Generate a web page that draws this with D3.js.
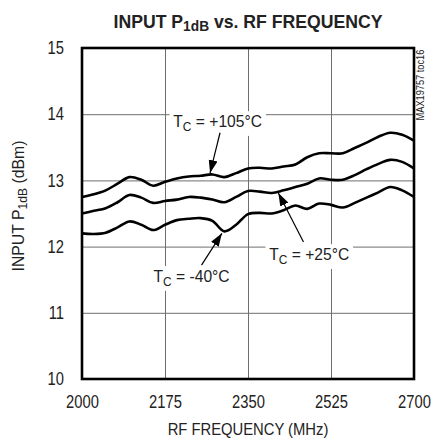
<!DOCTYPE html>
<html>
<head>
<meta charset="utf-8">
<script src="https://cdn.jsdelivr.net/npm/d3@7"></script>
<style>
  body { margin: 0; background: #fff; }
  svg text { font-family: "Liberation Sans", Arial, sans-serif; fill: #222; }
</style>
</head>
<body>
<div class="graph"></div>
<script>
// frequency points (MHz), 25 MHz apart
var freqs = [2000, 2025, 2050, 2075, 2100, 2125, 2150, 2175, 2200, 2225,
             2250, 2275, 2300, 2325, 2350, 2375, 2400, 2425, 2450, 2475,
             2500, 2525, 2550, 2575, 2600, 2625, 2650, 2675, 2700];

// input P1dB (dBm)
var p105 = [12.75, 12.79, 12.85, 12.95, 13.05, 13.01, 12.92, 12.98, 13.03, 13.06,
            13.07, 13.09, 13.05, 13.11, 13.18, 13.19, 13.18, 13.21, 13.24, 13.35,
            13.41, 13.41, 13.41, 13.49, 13.57, 13.66, 13.72, 13.69, 13.60];
var p25  = [12.50, 12.54, 12.58, 12.67, 12.78, 12.74, 12.66, 12.69, 12.71, 12.75,
            12.74, 12.71, 12.67, 12.75, 12.84, 12.83, 12.81, 12.85, 12.90, 12.95,
            13.03, 13.01, 13.01, 13.08, 13.17, 13.25, 13.31, 13.28, 13.18];
var pm40 = [12.20, 12.19, 12.21, 12.29, 12.38, 12.33, 12.25, 12.33, 12.40, 12.42,
            12.43, 12.39, 12.23, 12.33, 12.49, 12.51, 12.50, 12.55, 12.62, 12.57,
            12.65, 12.63, 12.59, 12.66, 12.74, 12.82, 12.90, 12.85, 12.75];

var xTicks = [2000, 2175, 2350, 2525, 2700];
var yTicks = [10, 11, 12, 13, 14, 15];

// annotations: label text, label position, arrow start -> arrow tip (data units)
var notes = [
  {t: "+105°C", lx: 2286, ly: 13.81, ax: 2291, ay: 13.72, tx: 2270, ty: 13.11},
  {t: "+25°C",  lx: 2479, ly: 11.80, ax: 2467, ay: 12.07, tx: 2414, ty: 12.81},
  {t: "-40°C",  lx: 2231, ly: 11.47, ax: 2252, ay: 11.72, tx: 2295, ty: 12.20}
];

var W = 432, H = 440;
var m = {left: 82, right: 18, top: 48, bottom: 61};
var NARROW = 0.84; // the original type is a condensed face

var svg = d3.select(".graph").append("svg")
  .attr("width", W).attr("height", H);

var x = d3.scaleLinear().domain([2000, 2700]).range([m.left, W - m.right]);
var y = d3.scaleLinear().domain([10, 15]).range([H - m.bottom, m.top]);

// grid
svg.append("g").attr("class", "grid")
  .attr("transform", "translate(0," + (H - m.bottom) + ")")
  .call(d3.axisBottom(x).tickValues(xTicks).tickSize(-(H - m.top - m.bottom)).tickFormat(""))
  .call(g => g.select(".domain").remove())
  .call(g => g.selectAll("line").attr("stroke", "#6e6e6e").attr("stroke-width", 1));
svg.append("g").attr("class", "grid")
  .attr("transform", "translate(" + m.left + ",0)")
  .call(d3.axisLeft(y).tickValues(yTicks).tickSize(-(W - m.left - m.right)).tickFormat(""))
  .call(g => g.select(".domain").remove())
  .call(g => g.selectAll("line").attr("stroke", "#6e6e6e").attr("stroke-width", 1));

// curves
var line = d3.line()
  .x(function(d, i) { return x(freqs[i]); })
  .y(function(d) { return y(d); })
  .curve(d3.curveCatmullRom);

[p105, p25, pm40].forEach(function(s) {
  svg.append("path").datum(s)
    .attr("d", line)
    .attr("fill", "none")
    .attr("stroke", "#000")
    .attr("stroke-width", 2.6)
    .attr("stroke-linejoin", "round");
});

// frame
svg.append("rect")
  .attr("x", m.left).attr("y", m.top)
  .attr("width", W - m.left - m.right).attr("height", H - m.top - m.bottom)
  .attr("fill", "none").attr("stroke", "#000").attr("stroke-width", 2.6);

// tick labels (squeezed sideways to look condensed)
svg.append("g")
  .attr("transform", "translate(0," + (H - m.bottom) + ")")
  .call(d3.axisBottom(x).tickValues(xTicks).tickSize(0).tickPadding(16).tickFormat(d3.format("d")))
  .call(g => g.select(".domain").remove())
  .selectAll("text").attr("font-size", 18).attr("font-family", null).attr("fill", "#222")
  .attr("transform", "scale(0.82,1)");
svg.append("g")
  .attr("transform", "translate(" + m.left + ",0)")
  .call(d3.axisLeft(y).tickValues(yTicks).tickSize(0).tickPadding(22).tickFormat(d3.format("d")))
  .call(g => g.select(".domain").remove())
  .selectAll("text").attr("font-size", 18).attr("font-family", null).attr("fill", "#222")
  .attr("transform", "scale(0.82,1)");

// arrowhead
svg.append("defs").append("marker")
  .attr("id", "arrowhead")
  .attr("viewBox", "0 -5 13 10")
  .attr("refX", 13).attr("refY", 0)
  .attr("markerWidth", 13).attr("markerHeight", 10)
  .attr("markerUnits", "userSpaceOnUse")
  .attr("orient", "auto")
  .append("path").attr("d", "M0,-4.5L13,0L0,4.5Z").attr("fill", "#000");

notes.forEach(function(n) {
  var g = svg.append("g")
    .attr("transform", "translate(" + x(n.lx) + "," + y(n.ly) + ") scale(0.92,1)");
  var bg = g.append("rect").attr("fill", "#fff");
  var txt = g.append("text")
    .attr("text-anchor", "middle")
    .attr("font-size", 17);
  txt.append("tspan").text("T");
  txt.append("tspan").attr("font-size", 13).attr("dy", 4).text("C");
  txt.append("tspan").attr("dy", -4).text(" = " + n.t);
  var b = txt.node().getBBox();
  bg.attr("x", b.x - 4).attr("y", b.y).attr("width", b.width + 8).attr("height", b.height + 2);
  svg.append("line")
    .attr("x1", x(n.ax)).attr("y1", y(n.ay))
    .attr("x2", x(n.tx)).attr("y2", y(n.ty))
    .attr("stroke", "#000").attr("stroke-width", 1.2)
    .attr("marker-end", "url(#arrowhead)");
});

// title
var title = svg.append("text")
  .attr("transform", "translate(" + (m.left + W - m.right) / 2 + ",28) scale(0.98,1)")
  .attr("text-anchor", "middle")
  .attr("font-size", 18).attr("font-weight", "bold");
title.append("tspan").text("INPUT P");
title.append("tspan").attr("font-size", 14).attr("dy", 3).text("1dB");
title.append("tspan").attr("dy", -3).text(" vs. RF FREQUENCY");

// axis titles
svg.append("text")
  .attr("transform", "translate(" + (m.left + W - m.right) / 2 + ",435) scale(0.87,1)")
  .attr("text-anchor", "middle").attr("font-size", 17)
  .text("RF FREQUENCY (MHz)");

var yl = svg.append("text")
  .attr("transform", "translate(24,206) rotate(-90) scale(" + 0.93 + ",1)")
  .attr("text-anchor", "middle").attr("font-size", 17);
yl.append("tspan").text("INPUT P");
yl.append("tspan").attr("font-size", 13).attr("dy", 3).text("1dB");
yl.append("tspan").attr("dy", -3).text(" (dBm)");

svg.append("text")
  .attr("transform", "translate(424,85) rotate(-90) scale(" + NARROW + ",1)")
  .attr("text-anchor", "middle").attr("font-size", 11)
  .text("MAX19757 toc16");
</script>
</body>
</html>
